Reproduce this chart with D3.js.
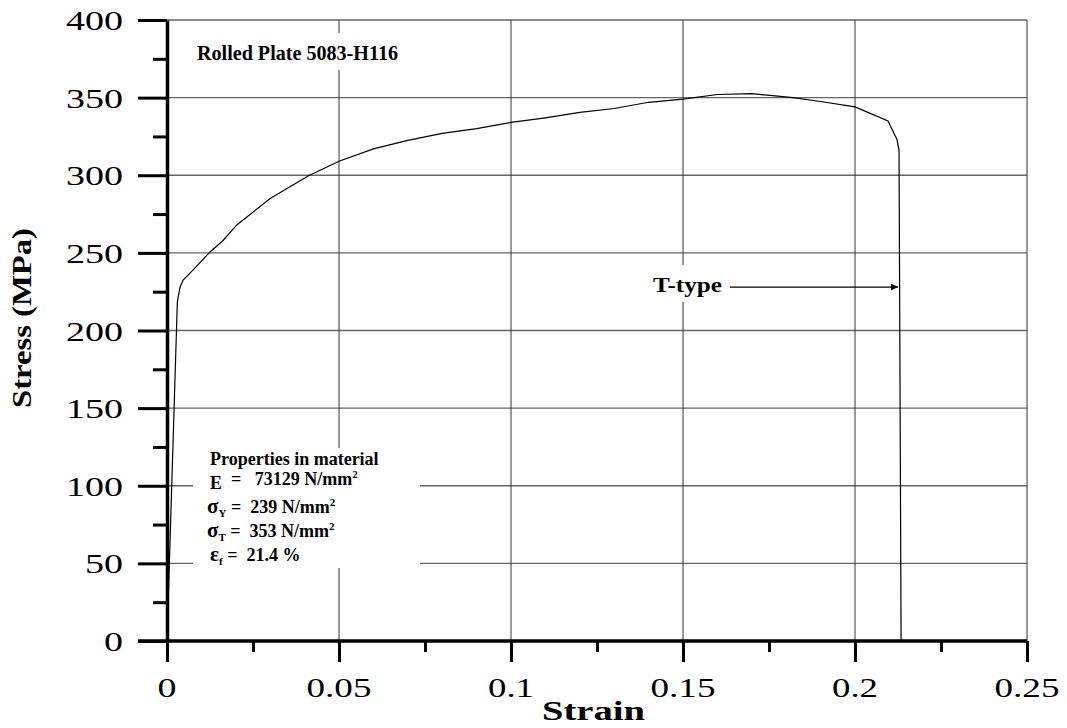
<!DOCTYPE html>
<html>
<head>
<meta charset="utf-8">
<script src="https://cdn.jsdelivr.net/npm/d3@7"></script>
<style>
  body { margin: 0; background: #fff; }
  text { font-family: "Liberation Serif", "Times New Roman", serif; fill: #000; }
</style>
</head>
<body>
<div id="chart"></div>
<script>
var strain = [0, 0.0030, 0.0032, 0.0038, 0.0047, 0.0076, 0.0125, 0.0163, 0.0203, 0.030, 0.041, 0.050, 0.060, 0.070, 0.080, 0.090, 0.100, 0.110, 0.120, 0.130, 0.140, 0.150, 0.160, 0.170, 0.182, 0.190, 0.200, 0.2096, 0.2122, 0.2128, 0.2134]
var stress = [0, 218, 221, 228, 232.5, 239, 250.6, 258, 268, 285, 299.5, 309, 317, 322.5, 327, 330, 334, 337, 340.5, 343, 347, 349, 352, 352.6, 350, 347.5, 344, 335, 323, 316, 0]

var xTicks = [0, 0.05, 0.1, 0.15, 0.2, 0.25]
var xTickLabels = ["0", "0.05", "0.1", "0.15", "0.2", "0.25"]
var xMinor = [0.025, 0.075, 0.125, 0.175, 0.225]
var yTicks = [0, 50, 100, 150, 200, 250, 300, 350, 400]
var yTickLabels = ["0", "50", "100", "150", "200", "250", "300", "350", "400"]
var yMinor = [25, 75, 125, 175, 225, 275, 325, 375]

var props = [
  { sym: "E", sub: "", val: "73129 N/mm", sup: "2", dx: 210 },
  { sym: "\u03c3", sub: "Y", val: "239 N/mm", sup: "2", dx: 207 },
  { sym: "\u03c3", sub: "T", val: "353 N/mm", sup: "2", dx: 207 },
  { sym: "\u03b5", sub: "f", val: "21.4 %", sup: "", dx: 210 }
]

var width = 1067
var height = 728

var svg = d3.select("#chart")
    .append("svg")
    .attr("width", width)
    .attr("height", height)

var x = d3.scaleLinear().domain([0, 0.25]).range([167, 1027])
var y = d3.scaleLinear().domain([0, 400]).range([641, 20])

// grid
svg.selectAll(".hgrid")
    .data(yTicks.slice(1))
    .enter()
    .append("line")
    .attr("x1", x(0)).attr("x2", x(0.25))
    .attr("y1", d => y(d)).attr("y2", d => y(d))
    .attr("stroke", "#666").attr("stroke-width", 1.3)

svg.selectAll(".vgrid")
    .data(xTicks.slice(1))
    .enter()
    .append("line")
    .attr("x1", d => x(d)).attr("x2", d => x(d))
    .attr("y1", y(0)).attr("y2", y(400))
    .attr("stroke", "#333").attr("stroke-width", 1)

// white boxes behind annotations
svg.append("rect").attr("x", 190).attr("y", 33).attr("width", 216).attr("height", 37).attr("fill", "#fff")
svg.append("rect").attr("x", 193).attr("y", 448).attr("width", 227).attr("height", 120).attr("fill", "#fff")
svg.append("rect").attr("x", 645).attr("y", 265).attr("width", 82).attr("height", 37).attr("fill", "#fff")

// curve
var line = d3.line()
    .x((d, i) => x(strain[i]))
    .y(d => y(d))

svg.append("path")
    .datum(stress)
    .attr("d", line)
    .attr("fill", "none")
    .attr("stroke", "#000")
    .attr("stroke-width", 1.2)

// axes
var xAxis = svg.append("g")
    .attr("transform", `translate(0,${y(0)})`)
    .call(d3.axisBottom(x).tickValues(xTicks).tickSize(21).tickFormat("").tickSizeOuter(0))
xAxis.select(".domain").attr("stroke-width", 3.5).attr("d", `M138,0H${x(0.25)}`)
xAxis.selectAll(".tick line").attr("stroke-width", 3)

svg.append("g")
    .attr("transform", `translate(0,${y(0)})`)
    .call(d3.axisBottom(x).tickValues(xMinor).tickSize(11).tickFormat(""))
    .call(g => g.select(".domain").remove())
    .selectAll(".tick line").attr("stroke-width", 3)

var yAxis = svg.append("g")
    .attr("transform", `translate(${x(0)},0)`)
    .call(d3.axisLeft(y).tickValues(yTicks).tickSize(29).tickFormat("").tickSizeOuter(0))
yAxis.select(".domain").attr("stroke-width", 3.5)
yAxis.selectAll(".tick line").attr("stroke-width", 3)

svg.append("g")
    .attr("transform", `translate(${x(0)},0)`)
    .call(d3.axisLeft(y).tickValues(yMinor).tickSize(14).tickFormat(""))
    .call(g => g.select(".domain").remove())
    .selectAll(".tick line").attr("stroke-width", 3)

function labelWidth(s) {
    return s.replace(/\./g, "").length * 19 + (s.indexOf(".") >= 0 ? 8 : 0)
}

svg.selectAll(".xlab")
    .data(xTicks)
    .enter()
    .append("text")
    .attr("x", d => x(d))
    .attr("y", y(0) + 56)
    .attr("text-anchor", "middle")
    .attr("font-size", 27)
    .attr("textLength", (d, i) => labelWidth(xTickLabels[i]))
    .attr("lengthAdjust", "spacingAndGlyphs")
    .text((d, i) => xTickLabels[i])

svg.selectAll(".ylab")
    .data(yTicks)
    .enter()
    .append("text")
    .attr("x", 123)
    .attr("y", d => y(d) + 10)
    .attr("text-anchor", "end")
    .attr("font-size", 27)
    .attr("textLength", (d, i) => labelWidth(yTickLabels[i]))
    .attr("lengthAdjust", "spacingAndGlyphs")
    .text((d, i) => yTickLabels[i])

// axis titles
svg.append("text")
    .attr("x", 542).attr("y", 720)
    .attr("font-size", 28).attr("font-weight", "bold")
    .attr("textLength", 103).attr("lengthAdjust", "spacingAndGlyphs")
    .text("Strain")

svg.append("text")
    .attr("transform", "translate(31,318) rotate(-90)")
    .attr("text-anchor", "middle")
    .attr("font-size", 27).attr("font-weight", "bold")
    .attr("textLength", 180).attr("lengthAdjust", "spacingAndGlyphs")
    .text("Stress (MPa)")

// annotations
svg.append("text")
    .attr("x", 197).attr("y", 60)
    .attr("font-size", 20).attr("font-weight", "bold")
    .attr("textLength", 201).attr("lengthAdjust", "spacingAndGlyphs")
    .text("Rolled Plate 5083-H116")

svg.append("text")
    .attr("x", 210).attr("y", 465)
    .attr("font-size", 18).attr("font-weight", "bold")
    .text("Properties in material")

var pText = svg.selectAll(".prop")
    .data(props)
    .enter()
    .append("text")
    .attr("x", d => d.dx)
    .attr("y", (d, i) => 489 + i * 24)
    .attr("font-size", 18).attr("font-weight", "bold")
    .attr("xml:space", "preserve")

pText.append("tspan").attr("font-size", d => (d.sub ? 21 : 18)).text(d => d.sym)
pText.append("tspan").attr("font-size", 11).attr("dy", 4).text(d => d.sub)
pText.append("tspan").attr("dy", -4).text(d => (d.sub ? " = " : "  =  "))
pText.append("tspan").text(d => " " + d.val)
pText.append("tspan").attr("font-size", 11).attr("dy", -7).text(d => d.sup)

svg.append("text")
    .attr("x", 653).attr("y", 292)
    .attr("font-size", 21).attr("font-weight", "bold")
    .attr("textLength", 69).attr("lengthAdjust", "spacingAndGlyphs")
    .text("T-type")

svg.append("defs").append("marker")
    .attr("id", "arrow")
    .attr("viewBox", "0 0 10 10")
    .attr("refX", 10).attr("refY", 5)
    .attr("markerWidth", 10).attr("markerHeight", 7)
    .attr("markerUnits", "userSpaceOnUse")
    .attr("orient", "auto")
    .append("path")
    .attr("d", "M0,0L10,5L0,10Z")
    .attr("fill", "#000")

svg.append("line")
    .attr("x1", 730).attr("x2", x(0.2128) - 1)
    .attr("y1", y(228)).attr("y2", y(228))
    .attr("stroke", "#000").attr("stroke-width", 1.2)
    .attr("marker-end", "url(#arrow)")
</script>
</body>
</html>
